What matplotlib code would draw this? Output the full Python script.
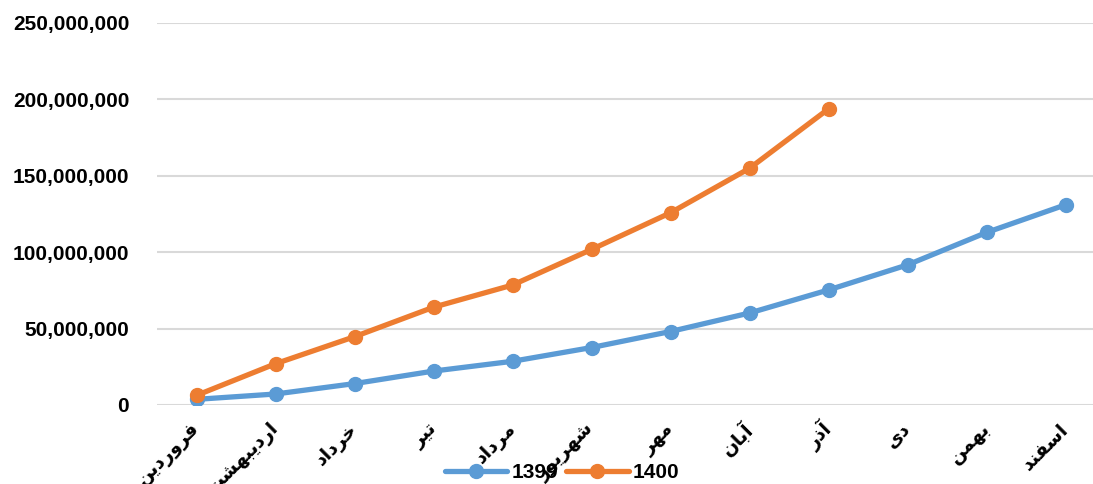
import matplotlib.pyplot as plt
from matplotlib.ticker import FuncFormatter

months = ['فروردین', 'اردیبهشت', 'خرداد', 'تیر', 'مرداد', 'شهریور',
          'مهر', 'آبان', 'آذر', 'دی', 'بهمن', 'اسفند']
sales_1399 = [3.7e6, 7.2e6, 14.0e6, 22.2e6, 28.6e6, 37.6e6,
              48.1e6, 60.2e6, 75.3e6, 91.7e6, 112.9e6, 131.0e6]
sales_1400 = [6.3e6, 27.0e6, 44.7e6, 64.0e6, 78.5e6, 101.8e6,
              125.8e6, 154.9e6, 193.8e6]
series_names = ['1399', '1400']

# matplotlib has no arabic shaping, so pick presentation forms by hand
# (isolated, final, initial, medial); None = letter does not join left
FORMS = {
    'ا': (0xFE8D, 0xFE8E, None, None),
    'آ': (0xFE81, 0xFE82, None, None),
    'ب': (0xFE8F, 0xFE90, 0xFE91, 0xFE92),
    'ت': (0xFE95, 0xFE96, 0xFE97, 0xFE98),
    'خ': (0xFEA5, 0xFEA6, 0xFEA7, 0xFEA8),
    'د': (0xFEA9, 0xFEAA, None, None),
    'ذ': (0xFEAB, 0xFEAC, None, None),
    'ر': (0xFEAD, 0xFEAE, None, None),
    'س': (0xFEB1, 0xFEB2, 0xFEB3, 0xFEB4),
    'ش': (0xFEB5, 0xFEB6, 0xFEB7, 0xFEB8),
    'ف': (0xFED1, 0xFED2, 0xFED3, 0xFED4),
    'م': (0xFEE1, 0xFEE2, 0xFEE3, 0xFEE4),
    'ن': (0xFEE5, 0xFEE6, 0xFEE7, 0xFEE8),
    'ه': (0xFEE9, 0xFEEA, 0xFEEB, 0xFEEC),
    'و': (0xFEED, 0xFEEE, None, None),
    'ی': (0xFEEF, 0xFEF0, 0xFEF3, 0xFEF4),
}


def shape(word):
    out = []
    for i, ch in enumerate(word):
        f = FORMS.get(ch)
        if f is None:
            out.append(ch)
            continue
        prev = FORMS.get(word[i - 1]) if i > 0 else None
        nxt = FORMS.get(word[i + 1]) if i + 1 < len(word) else None
        join_prev = prev is not None and prev[2] is not None
        join_next = nxt is not None and f[2] is not None
        if join_prev and join_next:
            code = f[3]
        elif join_prev:
            code = f[1]
        elif join_next:
            code = f[2]
        else:
            code = f[0]
        out.append(chr(code))
    return ''.join(reversed(out))


plt.rcParams['font.family'] = ['Liberation Sans', 'DejaVu Sans']

fig = plt.figure(figsize=(10.93, 4.84), dpi=100)
ax = fig.add_axes([157 / 1093, 79 / 484, 948 / 1093, 382 / 484])

x1 = list(range(len(sales_1399)))
x2 = list(range(len(sales_1400)))
ax.plot(x1, sales_1399, color='#5B9BD5', lw=3.8, marker='o', ms=10,
        label=series_names[0], solid_capstyle='round', zorder=3)
ax.plot(x2, sales_1400, color='#ED7D31', lw=3.8, marker='o', ms=10,
        label=series_names[1], solid_capstyle='round', zorder=4)

ax.set_xlim(-0.5, len(months) - 0.5)
ax.set_ylim(0, 250e6)
ax.set_yticks([0, 50e6, 100e6, 150e6, 200e6, 250e6])
ax.yaxis.set_major_formatter(FuncFormatter(lambda v, p: f'{v:,.0f}'))
ax.grid(axis='y', color='#D9D9D9', lw=1.5, zorder=0)
for s in ax.spines.values():
    s.set_visible(False)
ax.tick_params(axis='y', length=0, pad=20, labelsize=15)
ax.tick_params(axis='x', length=0, pad=15)
for lab in ax.get_yticklabels():
    lab.set_fontweight('bold')

ax.set_xticks(x1)
ax.set_xticklabels([shape(m) for m in months], rotation=45, ha='right',
                   va='center', rotation_mode='anchor', fontsize=13.5,
                   fontweight='bold', family=['DejaVu Sans'])

fig.legend(loc='center', bbox_to_anchor=(562 / 1093, 11 / 484), ncol=2,
           frameon=False, handlelength=3.0, columnspacing=0.4,
           handletextpad=0.2, prop={'weight': 'bold', 'size': 15})

fig.savefig('out.png', dpi=100)
